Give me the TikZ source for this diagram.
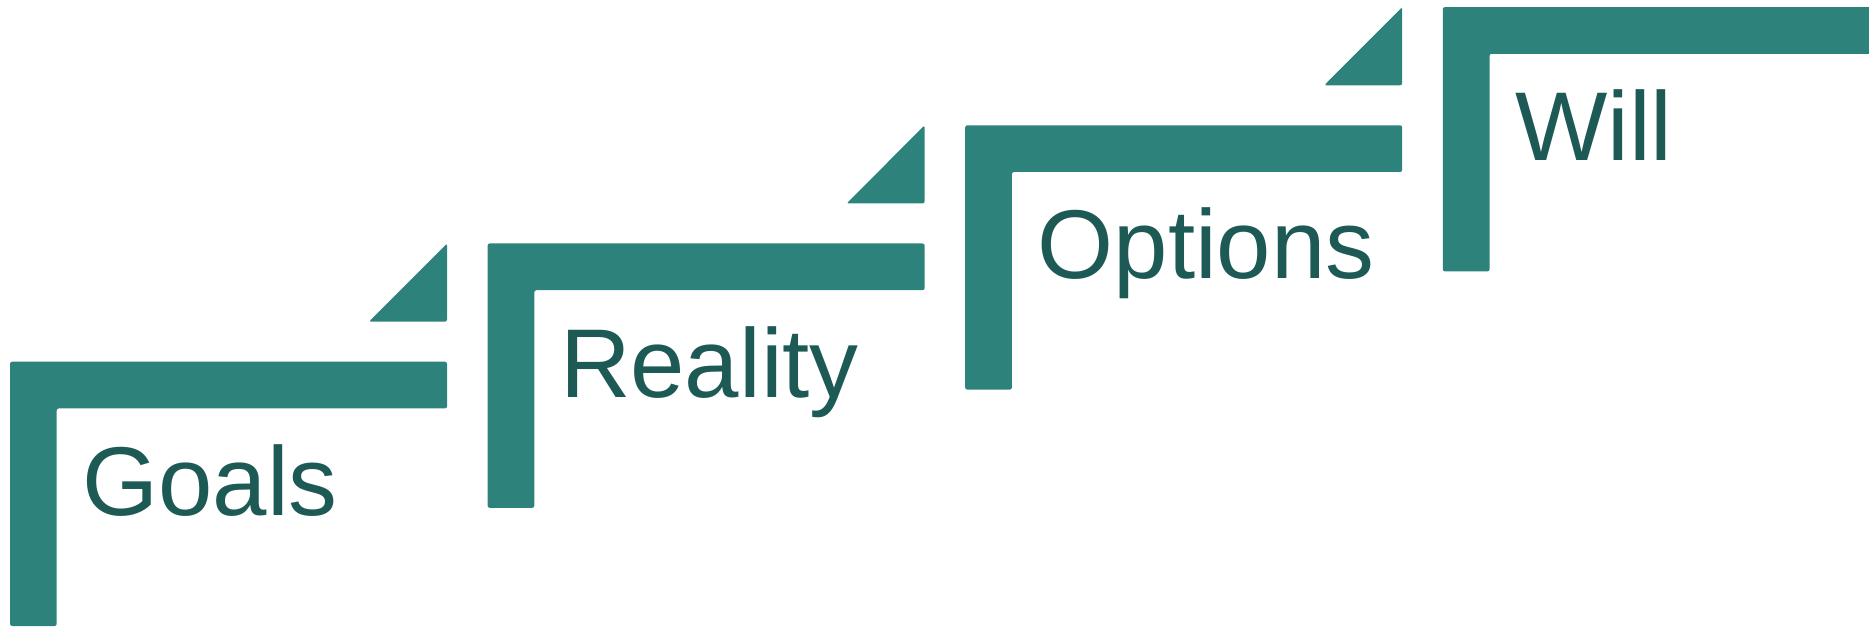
\documentclass[tikz,border=0pt]{standalone}
\usepackage{fontspec}
\setmainfont{Liberation Sans}
\usepackage{xcolor}
\usetikzlibrary{calc}

\definecolor{stepteal}{HTML}{2D837B}
\definecolor{steptext}{HTML}{1E5A55}

\tikzset{
  stepshape/.style={fill=stepteal, draw=none, rounded corners=0.6pt},
  steplabel/.style={anchor=base west, inner sep=0pt, text=steptext,
    font=\fontsize{27.8}{30}\selectfont}
}

\begin{document}
\begin{tikzpicture}[x=0.01cm, y=0.01cm]

\def\sx{477.6}
\def\sy{118.2}
\def\bt{46.7}
\def\bl{437}
\def\lh{264.3}
\def\tw{78}

\useasboundingbox (0,0) rectangle (1869,627);
\clip (0,0) rectangle (1869,627);

% the four steps with their labels
\foreach \lbl/\nm [count=\i from 0] in {Goals/goals, Reality/reality, Options/options, Will/will} {
  \pgfmathsetmacro{\lx}{10+\i*\sx}
  \pgfmathsetmacro{\ty}{265.3+\i*\sy}
  \fill[stepshape] (\lx,\ty-\lh) -- (\lx,\ty) -- (\lx+\bl,\ty) -- (\lx+\bl,\ty-\bt)
    -- (\lx+\bt,\ty-\bt) -- (\lx+\bt,\ty-\lh) -- cycle;
  \node[steplabel] (\nm) at (\lx+\bt+25, \ty-\bt-107) {\lbl};
}

% small wedges between the steps
\foreach \i in {0,1,2} {
  \pgfmathsetmacro{\rx}{10+\i*\sx+\bl}
  \pgfmathsetmacro{\ty}{265.3+\i*\sy}
  \fill[stepshape] (\rx,\ty+40) -- (\rx,\ty+\sy) -- (\rx-\tw,\ty+40) -- cycle;
}

\end{tikzpicture}
\end{document}
